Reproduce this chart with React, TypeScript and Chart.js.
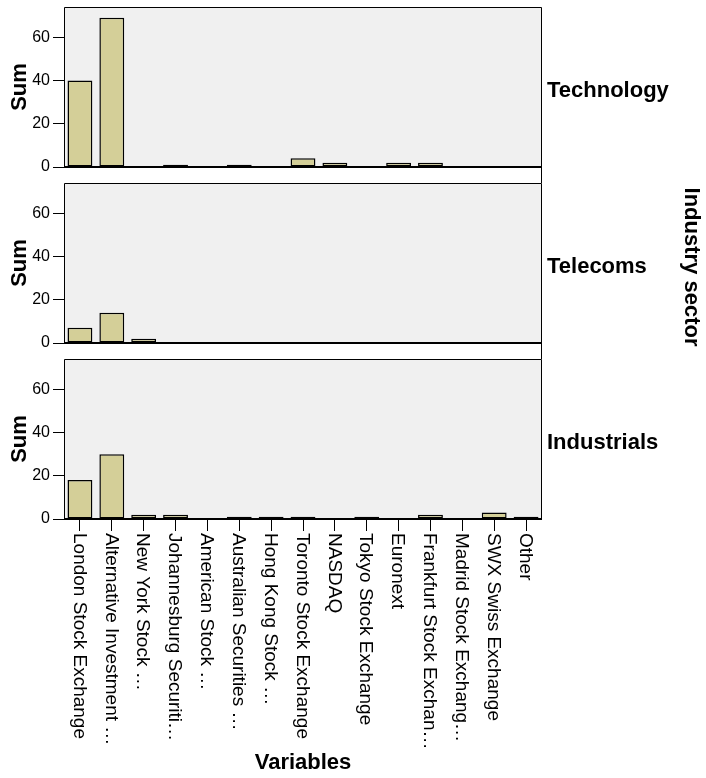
import { useEffect, useRef } from 'react';
import { Chart, registerables } from 'chart.js';

Chart.register(...registerables);

// ---- data ----
const categories = [
  'London Stock Exchange',
  'Alternative Investment …',
  'New York Stock …',
  'Johannesburg Securiti…',
  'American Stock …',
  'Australian Securities …',
  'Hong Kong Stock …',
  'Toronto Stock Exchange',
  'NASDAQ',
  'Tokyo Stock Exchange',
  'Euronext',
  'Frankfurt Stock Exchan…',
  'Madrid Stock Exchang…',
  'SWX Swiss Exchange',
  'Other',
];
const sectors = ['Technology', 'Telecoms', 'Industrials'];
const technologySums = [40, 69, 0, 1, 0, 1, 0, 4, 2, 0, 2, 2, 0, 0, 0];
const telecomsSums = [7, 14, 2, 0, 0, 0, 0, 0, 0, 0, 0, 0, 0, 0, 0];
const industrialsSums = [18, 30, 2, 2, 0, 1, 1, 1, 0, 1, 0, 2, 0, 3, 1];
const yTickStep = 20;
const yMax = 74;
const yAxisTitle = 'Sum';
const xAxisTitle = 'Variables';
const facetTitle = 'Industry sector';

// ---- layout / style ----
const W = 706;
const H = 778;
const FONT = '"Liberation Sans", Arial, Helvetica, sans-serif';
const PLOT_LEFT = 64;
const PLOT_RIGHT = 542;
const PANEL_TOPS = [7, 183, 359];
const PANEL_H = 160;
const GAP = 16;
const BAR_FILL = '#D4CF98';
const PLOT_BG = '#F0F0F0';

function makeConfig(idx: number, values: number[]): any {
  const top = PANEL_TOPS[idx];
  const bottom = top + PANEL_H;
  const last = idx === sectors.length - 1;

  const panelPlugin = {
    id: 'panelDeco' + idx,
    beforeDraw(chart: any) {
      const { ctx, chartArea: a } = chart;
      ctx.save();
      ctx.fillStyle = PLOT_BG;
      ctx.fillRect(a.left, a.top, a.right - a.left, a.bottom - a.top);
      ctx.restore();
    },
    afterDatasetsDraw(chart: any) {
      const { ctx, chartArea: a } = chart;
      ctx.save();
      ctx.strokeStyle = '#000';
      ctx.lineWidth = 1;
      ctx.beginPath();
      ctx.moveTo(a.left + 0.5, a.bottom);
      ctx.lineTo(a.left + 0.5, a.top + 0.5);
      ctx.lineTo(a.right - 0.5, a.top + 0.5);
      ctx.lineTo(a.right - 0.5, last ? a.bottom : a.bottom + GAP);
      ctx.stroke();
      ctx.lineWidth = 2;
      ctx.beginPath();
      ctx.moveTo(a.left, a.bottom);
      ctx.lineTo(a.right, a.bottom);
      ctx.stroke();
      ctx.restore();
    },
    afterDraw(chart: any) {
      const { ctx, chartArea: a } = chart;
      ctx.save();
      ctx.fillStyle = '#000';
      // facet label
      ctx.font = `bold 22px ${FONT}`;
      ctx.textAlign = 'left';
      ctx.textBaseline = 'alphabetic';
      ctx.fillText(sectors[idx], a.right + 5, (a.top + a.bottom) / 2 + 10);

      if (idx === 1) {
        ctx.save();
        ctx.font = `bold 22px ${FONT}`;
        ctx.translate(691, (PANEL_TOPS[0] + PANEL_TOPS[2] + PANEL_H) / 2 + 4);
        ctx.rotate(Math.PI / 2);
        ctx.textAlign = 'center';
        ctx.textBaseline = 'middle';
        ctx.fillText(facetTitle, 0, 0);
        ctx.restore();
      }

      if (last) {
        const xs = chart.scales.x;
        ctx.font = `19px ${FONT}`;
        ctx.textAlign = 'left';
        ctx.textBaseline = 'middle';
        categories.forEach((lab, i) => {
          const x = xs.getPixelForTick(i);
          ctx.save();
          ctx.translate(x - 1, a.bottom + 14);
          ctx.rotate(Math.PI / 2);
          ctx.fillText(lab, 0, 0);
          ctx.restore();
        });
        ctx.font = `bold 22px ${FONT}`;
        ctx.textAlign = 'center';
        ctx.textBaseline = 'alphabetic';
        ctx.fillText(xAxisTitle, (a.left + a.right) / 2, 769);
      }
      ctx.restore();
    },
  };

  return {
    type: 'bar',
    data: {
      labels: categories,
      datasets: [
        {
          label: sectors[idx],
          data: values,
          backgroundColor: BAR_FILL,
          borderColor: '#000',
          borderWidth: 1.5,
          borderSkipped: false,
          barPercentage: 0.78,
          categoryPercentage: 1,
        },
      ],
    },
    options: {
      responsive: false,
      maintainAspectRatio: false,
      animation: false,
      events: [],
      layout: {
        padding: { left: 0, right: W - PLOT_RIGHT, top: top, bottom: H - bottom },
      },
      plugins: {
        legend: { display: false },
        tooltip: { enabled: false },
        title: { display: false },
      },
      scales: {
        x: {
          type: 'category',
          display: last,
          offset: true,
          grid: {
            display: true,
            drawOnChartArea: false,
            drawTicks: true,
            tickLength: 12,
            color: '#000',
            lineWidth: 1,
            offset: false,
          },
          border: { display: false },
          ticks: { display: false },
          afterFit(s: any) {
            s.height = 0;
            s.paddingLeft = 0;
            s.paddingRight = 0;
          },
        },
        y: {
          position: 'left',
          min: 0,
          max: yMax,
          grid: {
            display: true,
            drawOnChartArea: false,
            drawTicks: true,
            tickLength: 11,
            color: '#000',
            lineWidth: 1,
          },
          border: { display: false },
          ticks: {
            stepSize: yTickStep,
            includeBounds: false,
            color: '#000',
            padding: 3,
            font: { family: FONT, size: 16 },
          },
          title: {
            display: true,
            text: yAxisTitle,
            color: '#000',
            font: { family: FONT, size: 22, weight: 'bold' },
            padding: { top: 7, bottom: 0 },
          },
          afterFit(s: any) {
            s.width = PLOT_LEFT;
            s.paddingTop = 0;
            s.paddingBottom = 0;
          },
        },
      },
    },
    plugins: [panelPlugin],
  };
}

export default function App() {
  const r0 = useRef<HTMLCanvasElement>(null);
  const r1 = useRef<HTMLCanvasElement>(null);
  const r2 = useRef<HTMLCanvasElement>(null);

  useEffect(() => {
    const refs = [r0, r1, r2];
    const series = [technologySums, telecomsSums, industrialsSums];
    const charts = series.map((vals, i) => new Chart(refs[i].current as HTMLCanvasElement, makeConfig(i, vals)));
    return () => charts.forEach((c) => c.destroy());
  }, []);

  const cs: any = { position: 'absolute', left: 0, top: 0, width: W, height: H };
  return (
    <div style={{ position: 'absolute', left: 0, top: 0, width: W, height: H, background: '#fff' }}>
      <canvas ref={r0} width={W} height={H} style={cs} />
      <canvas ref={r1} width={W} height={H} style={cs} />
      <canvas ref={r2} width={W} height={H} style={cs} />
    </div>
  );
}
